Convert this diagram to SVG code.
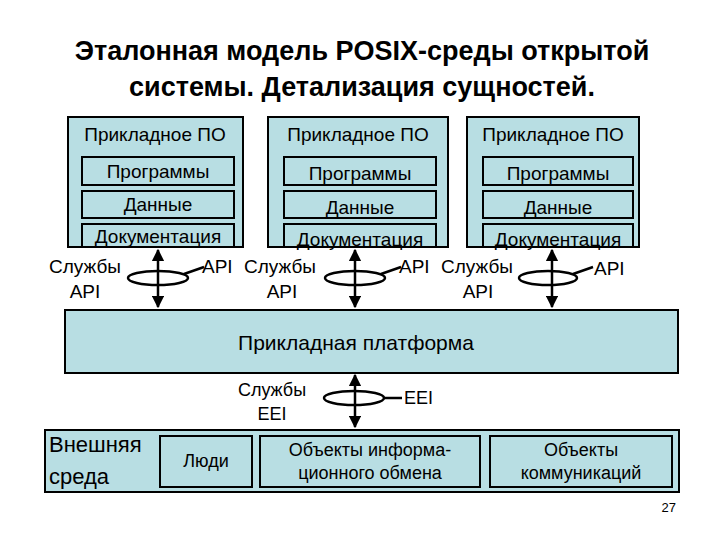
<svg xmlns="http://www.w3.org/2000/svg" width="720" height="540" viewBox="0 0 720 540">
<defs>
<marker id="ah" viewBox="0 0 10 10" refX="9" refY="5" markerWidth="5" markerHeight="5" orient="auto-start-reverse"><path d="M0,0L10,5L0,10z" fill="#000"/></marker>
<style>
text{font-family:"Liberation Sans",Arial,sans-serif;fill:#000}
.b{fill:#b8dee3;stroke:#000;stroke-width:2}
.t{font-size:19px;text-anchor:middle}
.s{font-size:18px;text-anchor:middle}
.l{font-size:19px}
.a{stroke:#000;stroke-width:2.5;fill:none}
.e{stroke:#000;stroke-width:2.5;fill:none}
.h{font-weight:bold;font-size:27px;text-anchor:middle}
</style>
</defs>
<rect width="720" height="540" fill="#fff"/>
<g id="title">
<text class="h" x="362" y="60">Эталонная модель POSIX-среды открытой</text>
<text class="h" x="362" y="96">системы. Детализация сущностей.</text>
</g>
<g id="app1">
<rect class="b" x="68" y="117" width="175" height="130"/>
<text class="t" x="155" y="141">Прикладное ПО</text>
<rect class="b" x="82" y="157" width="152" height="28"/><text class="t" x="158" y="178">Программы</text>
<rect class="b" x="82" y="191" width="152" height="27"/><text class="t" x="158" y="211">Данные</text>
<rect class="b" x="82" y="224" width="152" height="23"/><text class="t" x="158" y="243">Документация</text>
</g>
<g id="app2">
<rect class="b" x="268" y="117" width="180" height="130"/>
<text class="t" x="358" y="141">Прикладное ПО</text>
<rect class="b" x="284" y="157" width="152" height="28"/><text class="t" x="360" y="180">Программы</text>
<rect class="b" x="284" y="191" width="152" height="27"/><text class="t" x="360" y="214">Данные</text>
<rect class="b" x="284" y="224" width="152" height="23"/><text class="t" x="360" y="246">Документация</text>
</g>
<g id="app3">
<rect class="b" x="467" y="117" width="172" height="130"/>
<text class="t" x="553" y="141">Прикладное ПО</text>
<rect class="b" x="483" y="157" width="150" height="28"/><text class="t" x="558" y="180">Программы</text>
<rect class="b" x="483" y="191" width="150" height="27"/><text class="t" x="558" y="214">Данные</text>
<rect class="b" x="483" y="224" width="150" height="23"/><text class="t" x="558" y="246">Документация</text>
</g>
<g id="platform">
<rect class="b" x="65" y="310" width="613" height="63"/>
<text x="356" y="350" style="font-size:21px;text-anchor:middle">Прикладная платформа</text>
</g>
<g id="env">
<rect class="b" x="45" y="430" width="634" height="62"/>
<text x="49" y="452" style="font-size:22px">Внешняя</text>
<text x="49" y="484" style="font-size:22px">среда</text>
<rect class="b" x="160" y="436" width="92" height="51"/><text class="s" x="206" y="467">Люди</text>
<rect class="b" x="260" y="436" width="220" height="51"/><text class="s" x="370" y="456">Объекты информа-</text><text class="s" x="370" y="479">ционного обмена</text>
<rect class="b" x="490" y="436" width="182" height="51"/><text class="s" x="581" y="456">Объекты</text><text class="s" x="581" y="479">коммуникаций</text>
</g>
<g id="connectors">
<line class="a" x1="158" y1="250" x2="158" y2="307" marker-start="url(#ah)" marker-end="url(#ah)"/>
<ellipse class="e" cx="158" cy="278" rx="30" ry="7"/><line class="e" x1="184" y1="274" x2="204" y2="267"/>
<line class="a" x1="355" y1="250" x2="355" y2="307" marker-start="url(#ah)" marker-end="url(#ah)"/>
<ellipse class="e" cx="355" cy="278" rx="30" ry="7"/><line class="e" x1="381" y1="274" x2="401" y2="267"/>
<line class="a" x1="552" y1="250" x2="552" y2="307" marker-start="url(#ah)" marker-end="url(#ah)"/>
<ellipse class="e" cx="548" cy="278" rx="29" ry="7"/><line class="e" x1="573" y1="274" x2="593" y2="267"/>
<line class="a" x1="355" y1="375" x2="355" y2="427" marker-start="url(#ah)" marker-end="url(#ah)"/>
<ellipse class="e" cx="354" cy="398" rx="30" ry="7"/><line class="e" x1="384" y1="398" x2="402" y2="398"/>
</g>
<g id="labels">
<text class="t" x="85" y="273">Службы</text><text class="t" x="85" y="298">API</text>
<text class="l" x="202" y="273">API</text><text class="t" x="280" y="273">Службы</text><text class="t" x="282" y="298">API</text>
<text class="l" x="399" y="273">API</text><text class="t" x="477" y="273">Службы</text><text class="t" x="478" y="298">API</text>
<text class="l" x="594" y="275">API</text>
<text class="s" x="272" y="396">Службы</text><text class="s" x="272" y="420">EEI</text>
<text class="l" x="404" y="404" style="font-size:18px">EEI</text>
<text x="676" y="512" style="font-size:13px;text-anchor:end">27</text>
</g>
</svg>
